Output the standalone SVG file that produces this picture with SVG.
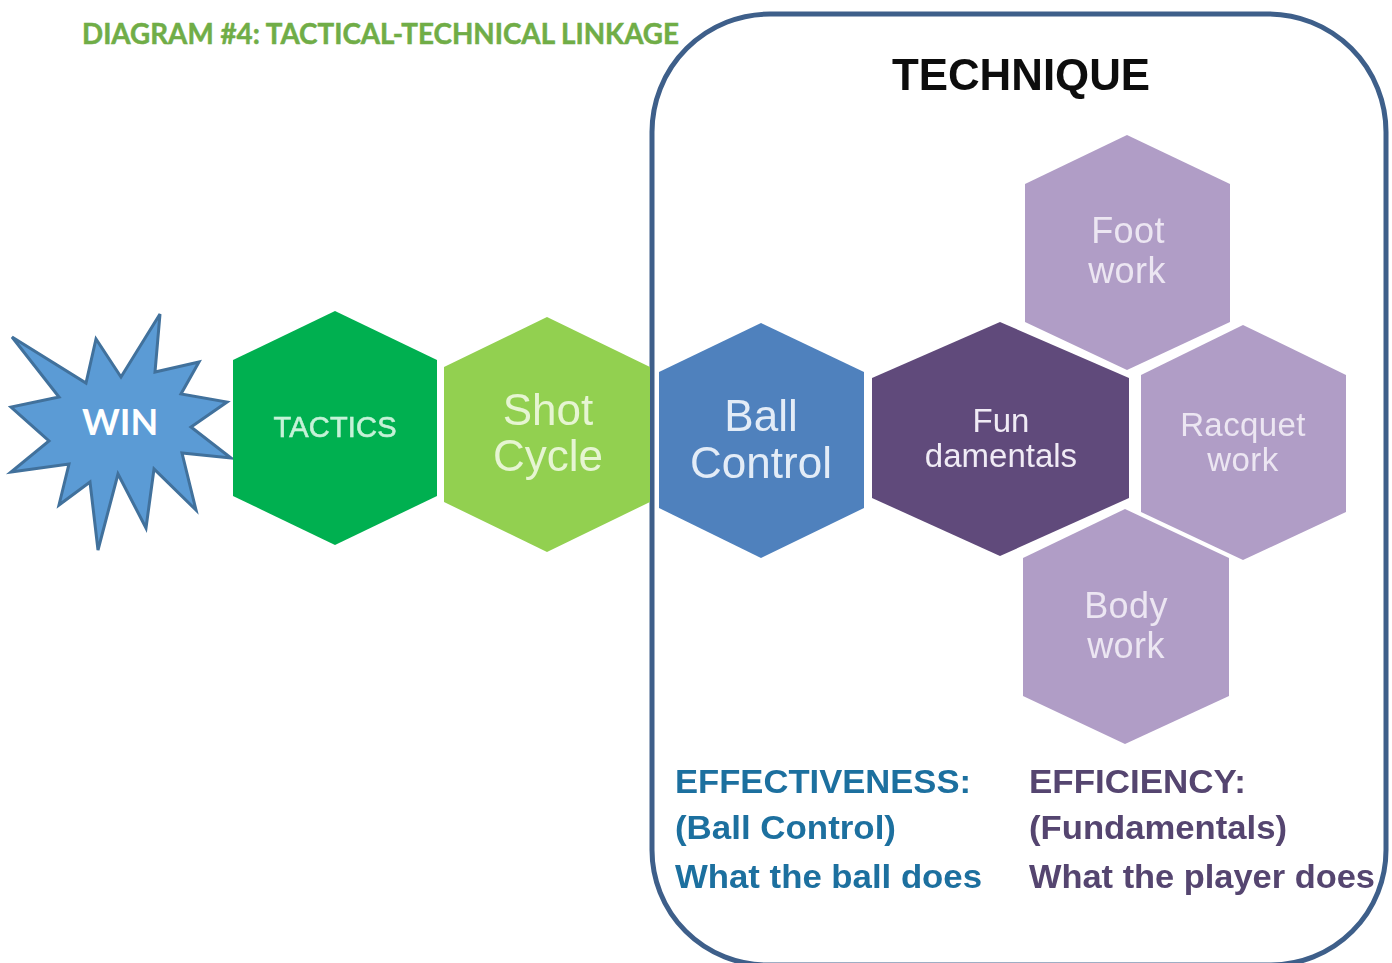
<svg xmlns="http://www.w3.org/2000/svg" width="1392" height="963" viewBox="0 0 1392 963">
<style>
.s{font-family:"Liberation Sans",Arial,sans-serif}
.l{font-family:Lato,"Open Sans",sans-serif;font-weight:bold}
.c{text-anchor:middle}
.hl{fill:#b09dc6}
.tl{fill:#ece6f2;letter-spacing:.4px}
.b{fill:#1f6f9f;font-size:34px;font-weight:bold}
.p{fill:#54456f;font-size:34px;font-weight:bold}
.soft{filter:url(#soft)}
</style>
<defs><filter id="soft" x="-5%" y="-20%" width="110%" height="140%"><feGaussianBlur stdDeviation="0.5"/></filter></defs>
<rect width="1392" height="963" fill="#fff"/>
<text class="l" x="82" y="44" font-size="28" fill="#70ad47" stroke="#70ad47" stroke-width=".5" textLength="597" lengthAdjust="spacingAndGlyphs">DIAGRAM #4: TACTICAL-TECHNICAL LINKAGE</text>
<g id="connectors"></g>
<g id="technique-frame">
<path d="M652 132 A118 118 0 0 1 770 14 H1268 A118 118 0 0 1 1386 132 V850 A115 115 0 0 1 1271 965 H767 A115 115 0 0 1 652 850 Z" fill="none" stroke="#3e5f8a" stroke-width="5"/>
<text class="s c soft" x="1021" y="90" font-size="44" font-weight="bold" fill="#0d0d0d" textLength="258" lengthAdjust="spacingAndGlyphs">TECHNIQUE</text>
</g>
<g id="win">
<polygon points="160,314 155,372 199,362 181,394 227,402 191,427 231,458 182,453 196,510 154,469 146,528 118,474 98,550 90,482 59,505 69,464 11,472 49,441 11,407 59,397 12,337 86,383 96,339 121,377" fill="#5b9bd5" stroke="#41719c" stroke-width="3"/>
<text x="120" y="435" class="c l" font-size="36" fill="#fff">WIN</text>
</g>
<g id="tactics">
<polygon points="335,311 437,360 437,496 335,545 233,496 233,360" fill="#00b050"/>
<text class="s c soft" x="335" y="437" font-size="29" fill="#c6f2d8" stroke="#c6f2d8" stroke-width=".6" textLength="123" lengthAdjust="spacing">TACTICS</text>
</g>
<g id="shot-cycle">
<polygon points="547,317 650,367 650,502 547,552 444,502 444,367" fill="#92d050"/>
<text class="s c soft" x="548" y="425" font-size="44" fill="#e6f5d2">Shot</text>
<text class="s c soft" x="548" y="471" font-size="44" fill="#e6f5d2">Cycle</text>
</g>
<g id="ball-control">
<polygon points="761,323 864,372 864,508 761,558 659,508 659,372" fill="#4f81bd"/>
<text class="s c soft" x="761" y="431" font-size="44" fill="#e3ecf7">Ball</text>
<text class="s c soft" x="761" y="478" font-size="44" fill="#e3ecf7">Control</text>
</g>
<g id="fundamentals">
<polygon points="1000,322 1129,378 1129,498 1000,556 872,498 872,378" fill="#604a7b"/>
<text class="s c soft" x="1001" y="432" font-size="33" fill="#f0ebf5">Fun</text>
<text class="s c soft" x="1001" y="467" font-size="33" fill="#f0ebf5">damentals</text>
</g>
<g id="footwork">
<polygon class="hl" points="1127,135 1230,184 1230,322 1127,370 1025,322 1025,184"/>
<text class="s c tl soft" x="1128" y="243" font-size="36">Foot</text>
<text class="s c tl soft" x="1127" y="283" font-size="36">work</text>
</g>
<g id="racquetwork">
<polygon class="hl" points="1243,325 1346,375 1346,512 1243,560 1141,512 1141,375"/>
<text class="s c tl soft" x="1243" y="436" font-size="33">Racquet</text>
<text class="s c tl soft" x="1243" y="471" font-size="33">work</text>
</g>
<g id="bodywork">
<polygon class="hl" points="1125,509 1229,558 1229,696 1125,744 1023,696 1023,558"/>
<text class="s c tl soft" x="1126" y="618" font-size="36">Body</text>
<text class="s c tl soft" x="1126" y="658" font-size="36">work</text>
</g>
<g id="effectiveness">
<text class="s b soft" x="675" y="793" textLength="296" lengthAdjust="spacingAndGlyphs">EFFECTIVENESS:</text>
<text class="s b soft" x="675" y="839" textLength="221" lengthAdjust="spacingAndGlyphs">(Ball Control)</text>
<text class="s b soft" x="675" y="888" textLength="307" lengthAdjust="spacingAndGlyphs">What the ball does</text>
</g>
<g id="efficiency">
<text class="s p soft" x="1029" y="793" textLength="217" lengthAdjust="spacingAndGlyphs">EFFICIENCY:</text>
<text class="s p soft" x="1029" y="839" textLength="258" lengthAdjust="spacingAndGlyphs">(Fundamentals)</text>
<text class="s p soft" x="1029" y="888" textLength="346" lengthAdjust="spacingAndGlyphs">What the player does</text>
</g>
</svg>
